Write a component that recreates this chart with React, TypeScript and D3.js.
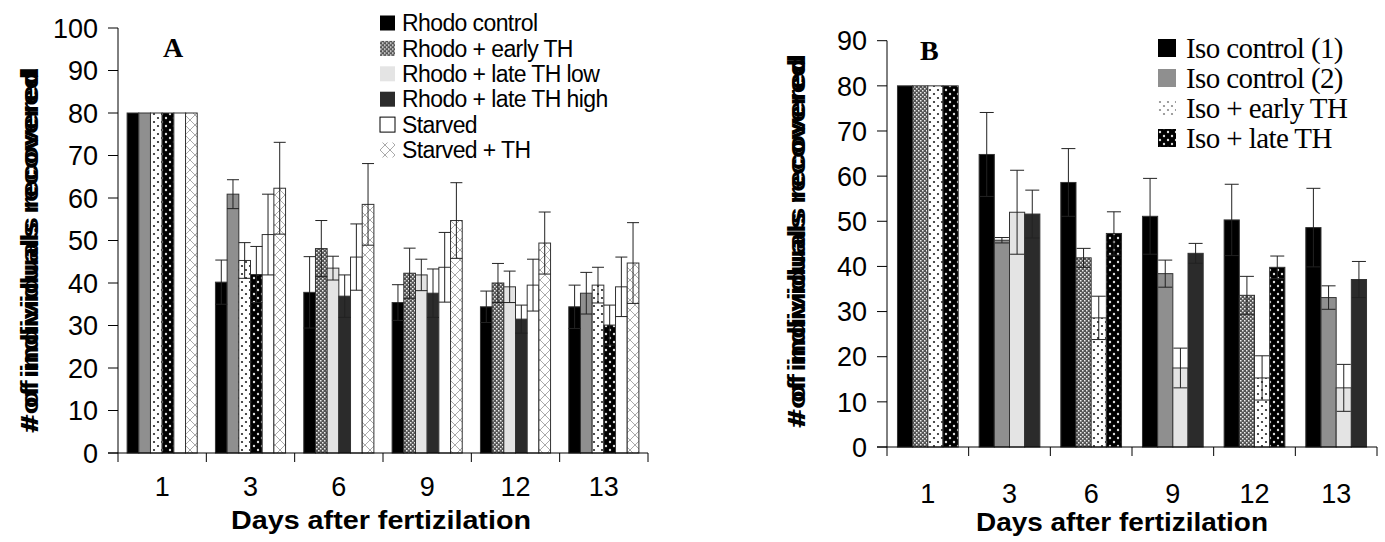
import React from "react";
import * as d3 from "d3";

// ---- data ----
const days = ["1", "3", "6", "9", "12", "13"];

const rhodoNames = [
  "Rhodo control",
  "Rhodo + early TH",
  "Rhodo + late TH low",
  "Rhodo + late TH high",
  "Starved",
  "Starved + TH",
];
const rhodoControl = [80, 40.2, 37.8, 35.4, 34.4, 34.4];
const rhodoControlErr = [0, 5.2, 8.4, 4.2, 3.7, 5.1];
const rhodoEarly = [80, 60.9, 48.1, 42.3, 40.0, 37.6];
const rhodoEarlyErr = [0, 3.4, 6.6, 5.9, 4.6, 4.9];
const rhodoLateLow = [80, 45.3, 43.5, 41.9, 39.1, 39.5];
const rhodoLateLowErr = [0, 4.2, 2.8, 3.7, 3.7, 4.2];
const rhodoLateHigh = [80, 42.0, 36.9, 37.6, 31.5, 30.1];
const rhodoLateHighErr = [0, 6.6, 5.0, 5.7, 3.3, 4.7];
const starved = [80, 51.4, 46.1, 43.7, 39.5, 39.1];
const starvedErr = [0, 9.5, 7.8, 8.2, 6.1, 7.0];
const starvedTH = [80, 62.3, 58.5, 54.7, 49.4, 44.7];
const starvedTHErr = [0, 10.8, 9.6, 8.9, 7.3, 9.5];

const isoNames = ["Iso control (1)", "Iso control (2)", "Iso + early TH", "Iso + late TH"];
const isoControl1 = [80, 64.8, 58.6, 51.1, 50.3, 48.6];
const isoControl1Err = [0, 9.3, 7.5, 8.4, 7.9, 8.7];
const isoControl2 = [80, 45.8, 41.9, 38.4, 33.6, 33.1];
const isoControl2Err = [0, 0.6, 2.1, 3.0, 4.2, 2.6];
const isoEarly = [80, 52.0, 28.6, 17.5, 15.3, 13.1];
const isoEarlyErr = [0, 9.3, 4.8, 4.4, 4.9, 5.2];
const isoLate = [80, 51.6, 47.3, 42.9, 39.8, 37.1];
const isoLateErr = [0, 5.3, 4.8, 2.2, 2.5, 4.0];

const ticksA = d3.range(0, 101, 10);
const ticksB = d3.range(0, 91, 10);

// fills per group (the original figure mixes up fills between days)
const fillsA1 = ["#000", "#8f8f8f", "url(#wdots)", "url(#bdots)", "#fff", "url(#cross)"];
const fillsA2 = ["#000", "url(#checker)", "#e4e4e4", "#2b2b2b", "#fff", "url(#cross)"];
const fillsGroupA = [fillsA1, fillsA1, fillsA2, fillsA2, fillsA2, fillsA1];
const legendFillsA = ["#000", "url(#checker)", "#e4e4e4", "#2b2b2b", "#fff", "url(#cross)"];

const fillsB1 = ["#000", "url(#checker)", "url(#wdots)", "url(#bdots)"];
const fillsB2 = ["#000", "#8f8f8f", "#e4e4e4", "#2b2b2b"];
const fillsGroupB = [fillsB1, fillsB2, fillsB1, fillsB2, fillsB1, fillsB2];
const legendFillsB = ["#000", "#8f8f8f", "url(#sdots)", "url(#bdots)"];

type PanelProps = {
  series: number[][];
  errs: number[][];
  fills: string[][];
  x0: number;
  x1: number;
  yTop: number;
  yZero: number;
  yMax: number;
  ticks: number[];
  padOuter: number;
  capW: number;
};

const Panel = ({ series, errs, fills, x0, x1, yTop, yZero, yMax, ticks, padOuter, capW }: PanelProps) => {
  const x = d3.scaleBand().domain(days).range([x0, x1]).padding(0);
  const inner = d3
    .scaleBand<number>()
    .domain(d3.range(series.length))
    .range([0, x.bandwidth()])
    .paddingInner(0)
    .paddingOuter(padOuter);
  const y = d3.scaleLinear().domain([0, yMax]).range([yZero, yTop]);

  return (
    <g>
      {days.map((d, gi) =>
        series.map((s, si) => (
          <rect
            key={`b${gi}-${si}`}
            x={x(d)! + inner(si)!}
            y={y(s[gi])}
            width={inner.bandwidth()}
            height={y(0) - y(s[gi])}
            fill={fills[gi][si]}
            stroke="#333"
            strokeWidth={1}
          />
        ))
      )}
      {days.map((d, gi) =>
        series.map((s, si) => {
          const e = errs[si][gi];
          if (!e) return null;
          const cx = x(d)! + inner(si)! + inner.bandwidth() / 2;
          return (
            <g key={`e${gi}-${si}`} stroke="#222" strokeWidth={1}>
              <line x1={cx} x2={cx} y1={y(s[gi] + e)} y2={y(s[gi] - e)} />
              <line x1={cx - capW / 2} x2={cx + capW / 2} y1={y(s[gi] + e)} y2={y(s[gi] + e)} />
              <line x1={cx - capW / 2} x2={cx + capW / 2} y1={y(s[gi] - e)} y2={y(s[gi] - e)} />
            </g>
          );
        })
      )}
      {/* axes */}
      <line x1={x0} x2={x0} y1={y(yMax)} y2={y(0)} stroke="#000" />
      <line x1={x0 - 10} x2={x1} y1={y(0)} y2={y(0)} stroke="#000" />
      {ticks.map((t) => (
        <g key={`t${t}`}>
          <line x1={x0 - 10} x2={x0} y1={y(t)} y2={y(t)} stroke="#000" />
          <text
            x={x0 - 20}
            y={y(t)}
            dy="0.36em"
            textAnchor="end"
            fontFamily="Liberation Sans, Arial, sans-serif"
            fontSize={27}
          >
            {t}
          </text>
        </g>
      ))}
      {days.map((d) => (
        <line key={`xt${d}`} x1={x(d)!} x2={x(d)!} y1={y(0)} y2={y(0) + 9} stroke="#000" />
      ))}
      <line x1={x1} x2={x1} y1={y(0)} y2={y(0) + 9} stroke="#000" />
    </g>
  );
};

const YTitle = ({ cx, yBottom, len }: { cx: number; yBottom: number; len: number }) => (
  <g
    transform={`translate(${cx},${yBottom}) rotate(-90)`}
    fontFamily="Liberation Sans, Arial, sans-serif"
    fontWeight="bold"
    fontSize={24}
  >
    <text x={0} y={8} textLength={len} lengthAdjust="spacingAndGlyphs">
      # of individuals recovered
    </text>
    <text x={2} y={8} textLength={len - 6} lengthAdjust="spacingAndGlyphs">
      #of individuals  recovered
    </text>
  </g>
);

const App = () => {
  const seriesA = [rhodoControl, rhodoEarly, rhodoLateLow, rhodoLateHigh, starved, starvedTH];
  const errsA = [rhodoControlErr, rhodoEarlyErr, rhodoLateLowErr, rhodoLateHighErr, starvedErr, starvedTHErr];
  const seriesB = [isoControl1, isoControl2, isoEarly, isoLate];
  const errsB = [isoControl1Err, isoControl2Err, isoEarlyErr, isoLateErr];

  const xA = d3.scaleBand().domain(days).range([118, 648]);
  const xB = d3.scaleBand().domain(days).range([887, 1377]);

  return (
    <svg
      width={1385}
      height={542}
      style={{ position: "absolute", left: 0, top: 0, background: "#fff" }}
    >
      <defs>
        <pattern id="checker" width={4} height={4} patternUnits="userSpaceOnUse">
          <rect width={4} height={4} fill="#555" />
          <rect x={0} y={0} width={1.5} height={1.5} fill="#eee" />
          <rect x={2} y={2} width={1.5} height={1.5} fill="#eee" />
        </pattern>
        <pattern id="wdots" width={8} height={8} patternUnits="userSpaceOnUse">
          <rect width={8} height={8} fill="#fff" />
          <circle cx={2} cy={2} r={1.1} fill="#222" />
          <circle cx={6} cy={6} r={1.1} fill="#222" />
        </pattern>
        <pattern id="sdots" width={8} height={8} patternUnits="userSpaceOnUse">
          <rect width={8} height={8} fill="#fff" />
          <circle cx={2} cy={2} r={1.1} fill="#888" />
          <circle cx={6} cy={6} r={1.1} fill="#888" />
        </pattern>
        <pattern id="bdots" width={8} height={8} patternUnits="userSpaceOnUse">
          <rect width={8} height={8} fill="#000" />
          <circle cx={2} cy={2} r={1.2} fill="#ddd" />
          <circle cx={6} cy={6} r={1.2} fill="#ddd" />
        </pattern>
        <pattern id="cross" width={10} height={10} patternUnits="userSpaceOnUse">
          <rect width={10} height={10} fill="#fff" />
          <path d="M0,0L10,10M10,0L0,10" stroke="#aaa" strokeWidth={1} />
        </pattern>
      </defs>

      {/* Panel A */}
      <Panel
        series={seriesA}
        errs={errsA}
        fills={fillsGroupA}
        x0={118}
        x1={648}
        yTop={28}
        yZero={453}
        yMax={100}
        ticks={ticksA}
        padOuter={0.78}
        capW={12}
      />
      <text x={163} y={57} fontFamily="Liberation Serif, Times New Roman, serif" fontWeight="bold" fontSize={28}>
        A
      </text>
      {rhodoNames.map((n, i) => (
        <g key={n} transform={`translate(380,${23 + i * 25.4})`}>
          <rect x={0} y={-7.5} width={15} height={15} fill={legendFillsA[i]} stroke={i === 4 ? "#000" : "none"} />
          <text
            x={22}
            y={0}
            dy="0.36em"
            fontFamily="Liberation Sans, Arial, sans-serif"
            fontSize={23}
            letterSpacing={-0.6}
          >
            {n}
          </text>
        </g>
      ))}
      {days.map((d) => (
        <text
          key={`la${d}`}
          x={xA(d)! + xA.bandwidth() / 2}
          y={486}
          dy="0.36em"
          textAnchor="middle"
          fontFamily="Liberation Sans, Arial, sans-serif"
          fontSize={27}
        >
          {d}
        </text>
      ))}
      <text
        x={381}
        y={520}
        dy="0.36em"
        textAnchor="middle"
        fontFamily="Liberation Sans, Arial, sans-serif"
        fontWeight="bold"
        fontSize={26}
        textLength={300}
        lengthAdjust="spacingAndGlyphs"
      >
        Days after fertizilation
      </text>
      <YTitle cx={30} yBottom={433} len={366} />

      {/* Panel B */}
      <Panel
        series={seriesB}
        errs={errsB}
        fills={fillsGroupB}
        x0={887}
        x1={1377}
        yTop={40.7}
        yZero={447}
        yMax={90}
        ticks={ticksB}
        padOuter={0.69}
        capW={14}
      />
      <text x={920} y={60} fontFamily="Liberation Serif, Times New Roman, serif" fontWeight="bold" fontSize={28}>
        B
      </text>
      {isoNames.map((n, i) => (
        <g key={n} transform={`translate(1158,${48 + i * 30})`}>
          <rect x={0} y={-9} width={18} height={18} fill={legendFillsB[i]} />
          <text
            x={28}
            y={0}
            dy="0.34em"
            fontFamily="Liberation Serif, Times New Roman, serif"
            fontSize={29}
            letterSpacing={-0.6}
          >
            {n}
          </text>
        </g>
      ))}
      {days.map((d) => (
        <text
          key={`lb${d}`}
          x={xB(d)! + xB.bandwidth() / 2}
          y={493}
          dy="0.36em"
          textAnchor="middle"
          fontFamily="Liberation Sans, Arial, sans-serif"
          fontSize={27}
        >
          {d}
        </text>
      ))}
      <text
        x={1122}
        y={522}
        dy="0.36em"
        textAnchor="middle"
        fontFamily="Liberation Sans, Arial, sans-serif"
        fontWeight="bold"
        fontSize={26}
        textLength={292}
        lengthAdjust="spacingAndGlyphs"
      >
        Days after fertizilation
      </text>
      <YTitle cx={797} yBottom={428} len={374} />
    </svg>
  );
};

export default App;
